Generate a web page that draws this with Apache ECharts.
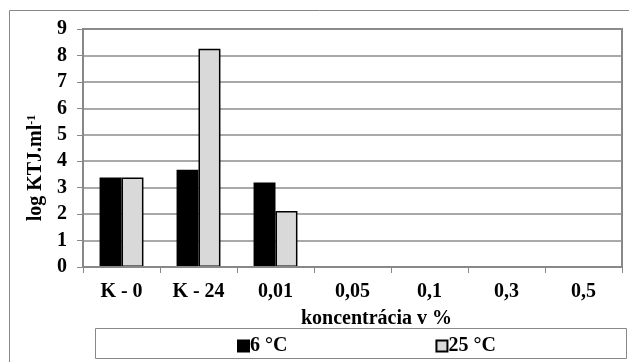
<!DOCTYPE html>
<html><head><meta charset="utf-8">
<script src="https://cdn.jsdelivr.net/npm/echarts@6/dist/echarts.min.js"></script>
<style>html,body{margin:0;padding:0;background:#fff}#c{width:629px;height:362px}</style>
</head><body><div id="c"></div>
<script>
const categories = ['K - 0', 'K - 24', '0,01', '0,05', '0,1', '0,3', '0,5'];
const s6 = [3.38, 3.68, 3.2, 0, 0, 0, 0];
const s25 = [3.38, 8.25, 2.12, 0, 0, 0, 0];
const seriesNames = ['6 °C', '25 °C'];
const yTicks = [0, 1, 2, 3, 4, 5, 6, 7, 8, 9];

const font = 'Liberation Serif';
const chart = echarts.init(document.getElementById('c'));
chart.setOption({
  animation: false,
  backgroundColor: '#fff',
  graphic: [
    { type: 'rect', shape: { x: 9.5, y: 10.5, width: 700, height: 400 }, style: { fill: 'none', stroke: '#888', lineWidth: 1 }, z: -10 },
    { type: 'rect', shape: { x: 95.5, y: 328.5, width: 531, height: 30 }, style: { fill: 'none', stroke: '#888', lineWidth: 1 } }
  ],
  grid: { left: 83, right: 7, top: 29, bottom: 95, show: true, borderColor: '#888', borderWidth: 2, backgroundColor: 'transparent' },
  legend: {
    data: seriesNames,
    left: 232, top: 331,
    itemGap: 148, itemWidth: 11, itemHeight: 11, icon: 'rect',
    textStyle: { fontFamily: font, fontSize: 20, fontWeight: 'bold', color: '#000', padding: [0, 0, 0, -4] }
  },
  xAxis: {
    type: 'category', data: categories, z: 5,
    axisLine: { lineStyle: { color: '#888', width: 2 } },
    axisTick: { show: true, length: 6, lineStyle: { color: '#888' } },
    axisLabel: { fontFamily: font, fontSize: 20, fontWeight: 'bold', color: '#000', margin: 15 },
    name: 'koncentrácia v %', nameLocation: 'middle', nameGap: 42,
    nameTextStyle: { fontFamily: font, fontSize: 20, fontWeight: 'bold', color: '#000', padding: [0, 0, 0, 48] }
  },
  yAxis: {
    type: 'value', min: 0, max: 9, interval: 1,
    axisLine: { show: true, lineStyle: { color: '#888', width: 1.5 } },
    axisTick: { show: true, length: 6, lineStyle: { color: '#888' } },
    axisLabel: { fontFamily: font, fontSize: 20, fontWeight: 'bold', color: '#000', margin: 16, formatter: v => String(yTicks[v] ?? v) },
    splitLine: { lineStyle: { color: '#8c8c8c', width: 1.5 } },
    name: '{a|log KTJ.ml}{b|-1}', nameLocation: 'middle', nameGap: 32, nameRotate: 90,
    nameTextStyle: {
      fontFamily: font, fontSize: 20, fontWeight: 'bold', color: '#000', padding: [0, 0, 0, -40],
      rich: {
        a: { fontFamily: font, fontSize: 20, fontWeight: 'bold', color: '#000' },
        b: { fontFamily: font, fontSize: 12, fontWeight: 'bold', color: '#000', verticalAlign: 'top', padding: [0, 0, 8, 0] }
      }
    }
  },
  series: [
    { name: seriesNames[0], type: 'bar', data: s6, barGap: '0%', barCategoryGap: '43%',
      itemStyle: { color: '#000', borderColor: '#000', borderWidth: 1.5 } },
    { name: seriesNames[1], type: 'bar', data: s25,
      itemStyle: { color: '#d9d9d9', borderColor: '#000', borderWidth: 1.5 } }
  ]
});
</script></body></html>
